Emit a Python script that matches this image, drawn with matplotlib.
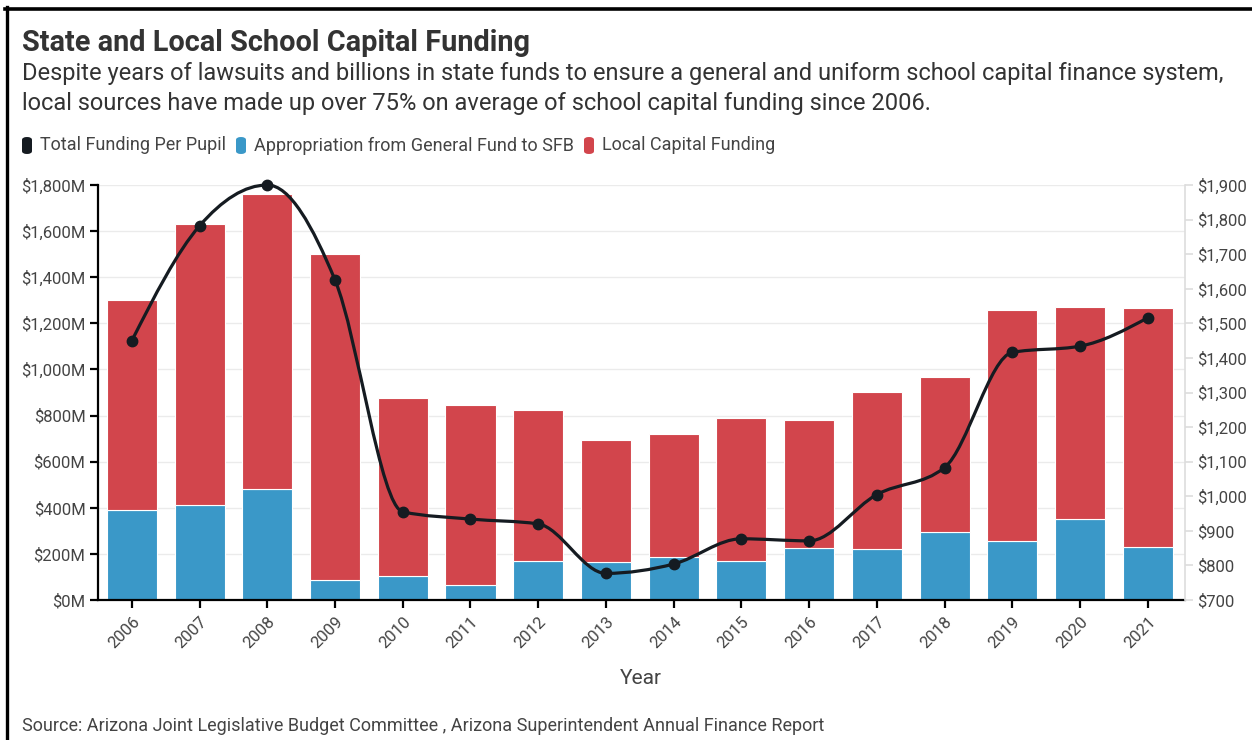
import matplotlib
matplotlib.use('Agg')
import matplotlib.pyplot as plt
from matplotlib.lines import Line2D
from matplotlib.patches import FancyBboxPatch, PathPatch
from matplotlib.path import Path
import numpy as np

plt.rcParams['font.family'] = ['Roboto', 'DejaVu Sans']

#==============================
# data

years = ['2006', '2007', '2008', '2009', '2010', '2011', '2012', '2013',
         '2014', '2015', '2016', '2017', '2018', '2019', '2020', '2021']
sfb = [390, 412, 481, 88, 102, 67, 169, 166, 185, 171, 224, 220, 296, 254, 351, 231]   # $M
local = [910, 1220, 1281, 1412, 776, 779, 657, 530, 537, 619, 558, 683, 673, 1006, 921, 1037]   # $M
per_pupil = [1450, 1782, 1900, 1625, 955, 934, 920, 777, 804, 877, 871, 1005, 1083, 1416, 1434, 1516]

left_ticks = list(range(0, 1801, 200))
right_ticks = list(range(700, 1901, 100))

BLUE = '#3a98c8'
RED = '#d2454c'
LINE = '#151b21'
TXT = '#444444'

#==============================


def monotone_path(xs, ys):
    """Bezier path through the points, same tangents as d3 curveMonotoneX."""
    xs = np.asarray(xs, float)
    ys = np.asarray(ys, float)
    n = len(xs)
    h = np.diff(xs)
    s = np.diff(ys) / h
    t = np.zeros(n)
    for i in range(1, n - 1):
        p = (s[i - 1] * h[i] + s[i] * h[i - 1]) / (h[i - 1] + h[i])
        t[i] = (np.sign(s[i - 1]) + np.sign(s[i])) * min(abs(s[i - 1]), abs(s[i]), 0.5 * abs(p))
    t[0] = (3 * s[0] - t[1]) / 2
    t[-1] = (3 * s[-1] - t[-2]) / 2
    verts = [(xs[0], ys[0])]
    codes = [Path.MOVETO]
    for i in range(n - 1):
        dx = h[i] / 3
        verts += [(xs[i] + dx, ys[i] + dx * t[i]),
                  (xs[i + 1] - dx, ys[i + 1] - dx * t[i + 1]),
                  (xs[i + 1], ys[i + 1])]
        codes += [Path.CURVE4] * 3
    return Path(verts, codes)


W, H = 1252, 740
fig = plt.figure(figsize=(W / 100, H / 100), dpi=100)
fig.patch.set_facecolor('white')

ax = fig.add_axes([98 / W, 140 / H, 1087 / W, 415 / H])
x = np.arange(len(years))

ax.bar(x, sfb, width=0.74, color=BLUE, edgecolor='white', linewidth=0.8, zorder=2)
ax.bar(x, local, bottom=sfb, width=0.74, color=RED, edgecolor='white', linewidth=0.8, zorder=2)

ax.set_xlim(-0.5, 15.55)
ax.set_ylim(0, 1800)
ax.set_yticks(left_ticks)
ax.set_yticklabels(['${:,}M'.format(v) for v in left_ticks])
ax.set_xticks(x)
ax.set_xticklabels(years, rotation=45, ha='right', rotation_mode='anchor')
ax.grid(axis='y', color='#ebebeb', lw=1)
ax.set_axisbelow(True)

for side in ['top', 'right']:
    ax.spines[side].set_visible(False)
for side in ['left', 'bottom']:
    ax.spines[side].set_linewidth(1.6)
    ax.spines[side].set_color('black')
ax.tick_params(axis='both', length=6, width=1.6, color='black', labelsize=12, labelcolor=TXT)
ax.tick_params(axis='y', pad=3)
ax.tick_params(axis='x', pad=4)

# per pupil line on the right axis
ax2 = ax.twinx()
ax2.set_ylim(700, 1900)
ax2.set_yticks(right_ticks)
ax2.set_yticklabels(['${:,}'.format(v) for v in right_ticks])
for side in ['top', 'left', 'bottom']:
    ax2.spines[side].set_visible(False)
ax2.spines['right'].set_color('#dddddd')
ax2.spines['right'].set_linewidth(1.2)
ax2.tick_params(axis='y', length=6, width=1.2, color='#dddddd', labelsize=12, labelcolor=TXT, pad=3)

ax2.add_patch(PathPatch(monotone_path(x, per_pupil), facecolor='none', edgecolor=LINE,
                        lw=2.3, capstyle='round', zorder=3, clip_on=False))
ax2.plot(x, per_pupil, 'o', ms=7.5, color=LINE, zorder=4, clip_on=False)

#==============================
# titles, legend, notes

fig.text(22 / W, 1 - 51 / H, 'State and Local School Capital Funding', fontsize=20.8,
         fontweight='bold', color='#333333', va='baseline')
fig.text(22 / W, 1 - 80 / H, 'Despite years of lawsuits and billions in state funds to ensure a general '
         'and uniform school capital finance system,', fontsize=17, color='#333333', va='baseline')
fig.text(22 / W, 1 - 110 / H, 'local sources have made up over 75% on average of school capital '
         'funding since 2006.', fontsize=17, color='#333333', va='baseline')

legend_items = [('Total Funding Per Pupil', LINE, 22),
                ('Appropriation from General Fund to SFB', BLUE, 236),
                ('Local Capital Funding', RED, 584)]
for label, col, px in legend_items:
    fig.add_artist(FancyBboxPatch((px / W, 1 - 154 / H), 10 / W, 17 / H,
                                  boxstyle='round,pad=0,rounding_size=0.004',
                                  transform=fig.transFigure, facecolor=col, edgecolor='none'))
    fig.text((px + 18) / W, 1 - 145.5 / H, label, fontsize=13, color=TXT, va='center')

fig.text(641 / W, 1 - 678 / H, 'Year', fontsize=15, color=TXT, ha='center', va='center')
fig.text(22 / W, 1 - 731 / H, 'Source: Arizona Joint Legislative Budget Committee , Arizona '
         'Superintendent Annual Finance Report', fontsize=13.0, color=TXT, va='baseline')

# frame
fig.add_artist(Line2D([6.5 / W, 6.5 / W], [0, 1 - 7 / H], color='black', lw=2.4,
                      transform=fig.transFigure))
fig.add_artist(Line2D([5 / W, 1], [1 - 8.5 / H, 1 - 8.5 / H], color='black', lw=2.6,
                      transform=fig.transFigure))

fig.savefig('out.png', dpi=100)
